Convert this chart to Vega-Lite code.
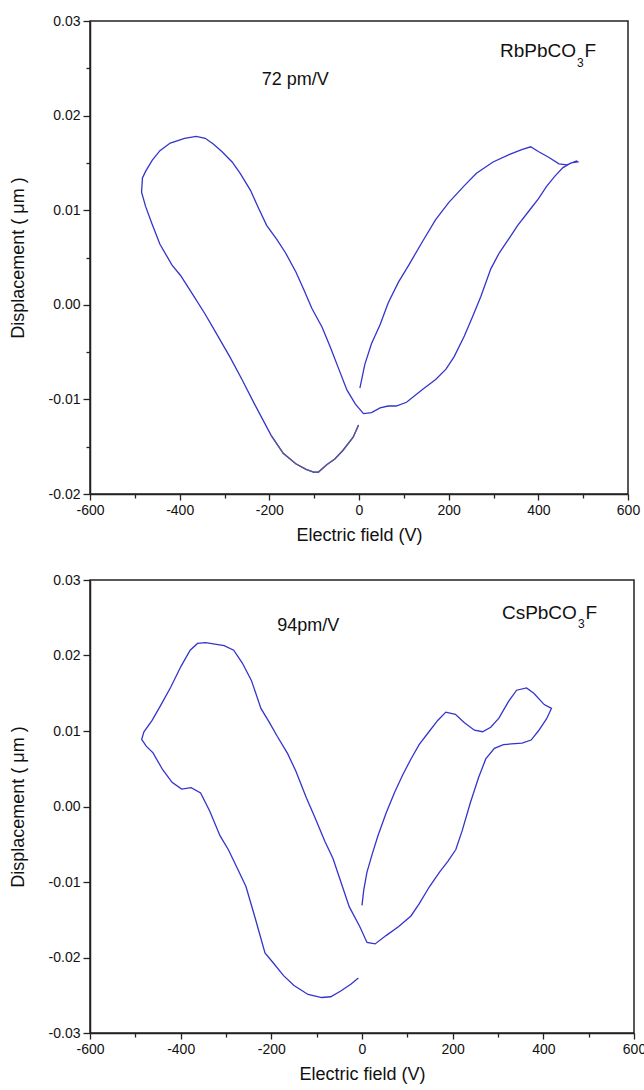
{
  "$schema": "https://vega.github.io/schema/vega-lite/v6.json",
  "padding": {"left": 8, "top": 13, "right": -3, "bottom": 0},
  "spacing": 27,
  "background": "white",
  "config": {
    "view": {"stroke": "#222222", "strokeWidth": 1.5},
    "axis": {
      "grid": false,
      "domainColor": "#222222",
      "domainWidth": 1.5,
      "tickColor": "#222222",
      "tickWidth": 1.3,
      "labelFont": "Liberation Sans",
      "labelFontSize": 14,
      "labelColor": "#111111",
      "labelPadding": 3,
      "labelOverlap": false,
      "labelFlush": false,
      "titleFont": "Liberation Sans",
      "titleFontSize": 18,
      "titleFontWeight": "normal",
      "titleColor": "#111111"
    },
    "text": {"font": "Liberation Sans", "color": "#111111"}
  },
  "datasets": {
    "rb": [
      {"i": 0, "V": 2, "D": -0.0088}, {"i": 1, "V": 13, "D": -0.0063}, {"i": 2, "V": 28, "D": -0.0041},
      {"i": 3, "V": 47, "D": -0.0021}, {"i": 4, "V": 65, "D": 0.0002}, {"i": 5, "V": 88, "D": 0.0024},
      {"i": 6, "V": 111, "D": 0.0042}, {"i": 7, "V": 143, "D": 0.0068}, {"i": 8, "V": 171, "D": 0.009},
      {"i": 9, "V": 200, "D": 0.0108}, {"i": 10, "V": 235, "D": 0.0126}, {"i": 11, "V": 262, "D": 0.0139},
      {"i": 12, "V": 299, "D": 0.0151}, {"i": 13, "V": 336, "D": 0.0159}, {"i": 14, "V": 363, "D": 0.0164},
      {"i": 15, "V": 383, "D": 0.0167}, {"i": 16, "V": 400, "D": 0.0162}, {"i": 17, "V": 423, "D": 0.0156},
      {"i": 18, "V": 446, "D": 0.0149}, {"i": 19, "V": 464, "D": 0.0148}, {"i": 20, "V": 485, "D": 0.0152},
      {"i": 21, "V": 488, "D": 0.0151}, {"i": 22, "V": 473, "D": 0.015}, {"i": 23, "V": 455, "D": 0.0145},
      {"i": 24, "V": 437, "D": 0.0136}, {"i": 25, "V": 418, "D": 0.0125}, {"i": 26, "V": 400, "D": 0.0112},
      {"i": 27, "V": 382, "D": 0.0101}, {"i": 28, "V": 354, "D": 0.0084}, {"i": 29, "V": 336, "D": 0.0071},
      {"i": 30, "V": 313, "D": 0.0055}, {"i": 31, "V": 294, "D": 0.0038}, {"i": 32, "V": 272, "D": 0.0009},
      {"i": 33, "V": 253, "D": -0.0013}, {"i": 34, "V": 235, "D": -0.0033}, {"i": 35, "V": 212, "D": -0.0055},
      {"i": 36, "V": 194, "D": -0.0068}, {"i": 37, "V": 171, "D": -0.0079}, {"i": 38, "V": 143, "D": -0.0089},
      {"i": 39, "V": 106, "D": -0.0103}, {"i": 40, "V": 83, "D": -0.0107}, {"i": 41, "V": 65, "D": -0.0107},
      {"i": 42, "V": 47, "D": -0.0109}, {"i": 43, "V": 28, "D": -0.0114}, {"i": 44, "V": 10, "D": -0.0115},
      {"i": 45, "V": -8, "D": -0.0105}, {"i": 46, "V": -27, "D": -0.009}, {"i": 47, "V": -45, "D": -0.0068},
      {"i": 48, "V": -63, "D": -0.0046}, {"i": 49, "V": -82, "D": -0.0024}, {"i": 50, "V": -105, "D": -0.0004},
      {"i": 51, "V": -123, "D": 0.0016}, {"i": 52, "V": -141, "D": 0.0035}, {"i": 53, "V": -164, "D": 0.0055},
      {"i": 54, "V": -183, "D": 0.0069}, {"i": 55, "V": -206, "D": 0.0084}, {"i": 56, "V": -224, "D": 0.0102},
      {"i": 57, "V": -242, "D": 0.0121}, {"i": 58, "V": -265, "D": 0.0139}, {"i": 59, "V": -283, "D": 0.0151},
      {"i": 60, "V": -306, "D": 0.0162}, {"i": 61, "V": -325, "D": 0.017}, {"i": 62, "V": -343, "D": 0.0176},
      {"i": 63, "V": -363, "D": 0.0178}, {"i": 64, "V": -389, "D": 0.0176}, {"i": 65, "V": -421, "D": 0.0171},
      {"i": 66, "V": -444, "D": 0.0163}, {"i": 67, "V": -461, "D": 0.0153}, {"i": 68, "V": -476, "D": 0.0141},
      {"i": 69, "V": -483, "D": 0.0134}, {"i": 70, "V": -485, "D": 0.0119}, {"i": 71, "V": -476, "D": 0.0104},
      {"i": 72, "V": -462, "D": 0.0086}, {"i": 73, "V": -444, "D": 0.0064}, {"i": 74, "V": -417, "D": 0.0042},
      {"i": 75, "V": -398, "D": 0.0031}, {"i": 76, "V": -371, "D": 0.0011}, {"i": 77, "V": -343, "D": -0.001},
      {"i": 78, "V": -316, "D": -0.0032}, {"i": 79, "V": -288, "D": -0.0055}, {"i": 80, "V": -261, "D": -0.0079},
      {"i": 81, "V": -233, "D": -0.0105}, {"i": 82, "V": -196, "D": -0.0138}, {"i": 83, "V": -169, "D": -0.0157},
      {"i": 84, "V": -141, "D": -0.0168}, {"i": 85, "V": -118, "D": -0.0174}, {"i": 86, "V": -100, "D": -0.0177},
      {"i": 87, "V": -91, "D": -0.0177}, {"i": 88, "V": -72, "D": -0.0169}, {"i": 89, "V": -54, "D": -0.0163},
      {"i": 90, "V": -36, "D": -0.0154}, {"i": 91, "V": -13, "D": -0.014}, {"i": 92, "V": -1, "D": -0.0127}
    ],
    "cs": [
      {"i": 0, "V": 0, "D": -0.0131}, {"i": 1, "V": 4, "D": -0.011}, {"i": 2, "V": 11, "D": -0.0087},
      {"i": 3, "V": 22, "D": -0.0064}, {"i": 4, "V": 35, "D": -0.0039}, {"i": 5, "V": 53, "D": -0.0009},
      {"i": 6, "V": 72, "D": 0.0019}, {"i": 7, "V": 90, "D": 0.0042}, {"i": 8, "V": 108, "D": 0.0063},
      {"i": 9, "V": 126, "D": 0.0082}, {"i": 10, "V": 149, "D": 0.01}, {"i": 11, "V": 167, "D": 0.0114},
      {"i": 12, "V": 185, "D": 0.0125}, {"i": 13, "V": 206, "D": 0.0122}, {"i": 14, "V": 226, "D": 0.0111},
      {"i": 15, "V": 248, "D": 0.0101}, {"i": 16, "V": 266, "D": 0.0099}, {"i": 17, "V": 284, "D": 0.0105},
      {"i": 18, "V": 302, "D": 0.0117}, {"i": 19, "V": 323, "D": 0.0139}, {"i": 20, "V": 341, "D": 0.0154},
      {"i": 21, "V": 363, "D": 0.0157}, {"i": 22, "V": 379, "D": 0.015}, {"i": 23, "V": 402, "D": 0.0135},
      {"i": 24, "V": 418, "D": 0.013}, {"i": 25, "V": 407, "D": 0.0116}, {"i": 26, "V": 389, "D": 0.01},
      {"i": 27, "V": 373, "D": 0.0088}, {"i": 28, "V": 353, "D": 0.0084}, {"i": 29, "V": 312, "D": 0.0082},
      {"i": 30, "V": 292, "D": 0.0077}, {"i": 31, "V": 273, "D": 0.0063}, {"i": 32, "V": 257, "D": 0.0038},
      {"i": 33, "V": 239, "D": 0.0005}, {"i": 34, "V": 221, "D": -0.0032}, {"i": 35, "V": 207, "D": -0.0057},
      {"i": 36, "V": 189, "D": -0.0073}, {"i": 37, "V": 171, "D": -0.0087}, {"i": 38, "V": 149, "D": -0.0106},
      {"i": 39, "V": 126, "D": -0.0129}, {"i": 40, "V": 108, "D": -0.0145}, {"i": 41, "V": 81, "D": -0.0159},
      {"i": 42, "V": 53, "D": -0.0171}, {"i": 43, "V": 29, "D": -0.0182}, {"i": 44, "V": 11, "D": -0.018},
      {"i": 45, "V": -5, "D": -0.0159}, {"i": 46, "V": -28, "D": -0.0133}, {"i": 47, "V": -46, "D": -0.0101},
      {"i": 48, "V": -64, "D": -0.0069}, {"i": 49, "V": -82, "D": -0.0046}, {"i": 50, "V": -105, "D": -0.0013},
      {"i": 51, "V": -123, "D": 0.0012}, {"i": 52, "V": -146, "D": 0.0047}, {"i": 53, "V": -164, "D": 0.007},
      {"i": 54, "V": -187, "D": 0.0093}, {"i": 55, "V": -205, "D": 0.0112}, {"i": 56, "V": -223, "D": 0.013},
      {"i": 57, "V": -244, "D": 0.0167}, {"i": 58, "V": -264, "D": 0.019}, {"i": 59, "V": -283, "D": 0.0207},
      {"i": 60, "V": -304, "D": 0.0213}, {"i": 61, "V": -345, "D": 0.0217}, {"i": 62, "V": -363, "D": 0.0216},
      {"i": 63, "V": -379, "D": 0.0207}, {"i": 64, "V": -399, "D": 0.0186}, {"i": 65, "V": -422, "D": 0.0158},
      {"i": 66, "V": -445, "D": 0.0133}, {"i": 67, "V": -463, "D": 0.0114}, {"i": 68, "V": -481, "D": 0.0099},
      {"i": 69, "V": -486, "D": 0.0089}, {"i": 70, "V": -476, "D": 0.008}, {"i": 71, "V": -461, "D": 0.0071},
      {"i": 72, "V": -440, "D": 0.0049}, {"i": 73, "V": -419, "D": 0.0032}, {"i": 74, "V": -398, "D": 0.0023},
      {"i": 75, "V": -377, "D": 0.0025}, {"i": 76, "V": -356, "D": 0.0018}, {"i": 77, "V": -336, "D": -0.0006},
      {"i": 78, "V": -313, "D": -0.0039}, {"i": 79, "V": -295, "D": -0.0057}, {"i": 80, "V": -274, "D": -0.0083},
      {"i": 81, "V": -256, "D": -0.0106}, {"i": 82, "V": -236, "D": -0.0147}, {"i": 83, "V": -214, "D": -0.0194},
      {"i": 84, "V": -196, "D": -0.0207}, {"i": 85, "V": -173, "D": -0.0224}, {"i": 86, "V": -150, "D": -0.0237},
      {"i": 87, "V": -119, "D": -0.0249}, {"i": 88, "V": -89, "D": -0.0253}, {"i": 89, "V": -69, "D": -0.0252},
      {"i": 90, "V": -46, "D": -0.0244}, {"i": 91, "V": -24, "D": -0.0235}, {"i": 92, "V": -8, "D": -0.0227}
    ]
  },
  "vconcat": [
    {
      "width": 538,
      "height": 473,
      "layer": [
        {
          "data": {"name": "rb"},
          "mark": {"type": "line", "color": "#3434cc", "strokeWidth": 1.3},
          "encoding": {
            "x": {"field": "V", "type": "quantitative",
                  "scale": {"domain": [-600, 600], "nice": false, "zero": false},
                  "axis": {"title": "Electric field (V)", "values": [-600, -500, -400, -300, -200, -100, 0, 100, 200, 300, 400, 500, 600],
                           "labelExpr": "datum.value % 200 == 0 ? replace(format(datum.value, 'd'), '\u2212', '-') : ''",
                           "tickSize": {"condition": {"test": "datum.value % 200 != 0", "value": 4}, "value": 6},
                           "titlePadding": 9}},
            "y": {"field": "D", "type": "quantitative",
                  "scale": {"domain": [-0.02, 0.03], "nice": false, "zero": false},
                  "axis": {"title": "Displacement ( \u03bcm )", "values": [-0.02, -0.015, -0.01, -0.005, 0, 0.005, 0.01, 0.015, 0.02, 0.025, 0.03],
                           "labelExpr": "abs(datum.value*100 - round(datum.value*100)) < 0.01 ? replace(format(datum.value, '.2f'), '\u2212', '-') : ''",
                           "tickSize": {"condition": {"test": "abs(datum.value*100 - round(datum.value*100)) > 0.01", "value": 4}, "value": 7},
                           "titlePadding": 21}},
            "order": {"field": "i", "type": "quantitative"}
          }
        },
        {
          "data": {"name": "rb"},
          "transform": [{"filter": "datum.i >= 82"}],
          "mark": {"type": "line", "color": "#5a5a90", "strokeWidth": 1.3},
          "encoding": {
            "x": {"field": "V", "type": "quantitative"},
            "y": {"field": "D", "type": "quantitative"},
            "order": {"field": "i", "type": "quantitative"}
          }
        },
        {
          "data": {"values": [{"V": -217, "D": 0.0232, "label": "72 pm/V"}]},
          "mark": {"type": "text", "align": "left", "baseline": "alphabetic", "fontSize": 18},
          "encoding": {"x": {"field": "V", "type": "quantitative"}, "y": {"field": "D", "type": "quantitative"}, "text": {"field": "label"}}
        },
        {
          "data": {"values": [{"V": 484, "D": 0.0262, "label": "RbPbCO"}]},
          "mark": {"type": "text", "align": "right", "baseline": "alphabetic", "fontSize": 19},
          "encoding": {"x": {"field": "V", "type": "quantitative"}, "y": {"field": "D", "type": "quantitative"}, "text": {"field": "label"}}
        },
        {
          "data": {"values": [{"V": 484, "D": 0.0262, "label": "3"}]},
          "mark": {"type": "text", "align": "left", "baseline": "alphabetic", "fontSize": 12, "dx": 1, "dy": 10},
          "encoding": {"x": {"field": "V", "type": "quantitative"}, "y": {"field": "D", "type": "quantitative"}, "text": {"field": "label"}}
        },
        {
          "data": {"values": [{"V": 484, "D": 0.0262, "label": "F"}]},
          "mark": {"type": "text", "align": "left", "baseline": "alphabetic", "fontSize": 19, "dx": 8.5},
          "encoding": {"x": {"field": "V", "type": "quantitative"}, "y": {"field": "D", "type": "quantitative"}, "text": {"field": "label"}}
        }
      ]
    },
    {
      "width": 544,
      "height": 453,
      "layer": [
        {
          "data": {"name": "cs"},
          "mark": {"type": "line", "color": "#3434cc", "strokeWidth": 1.3},
          "encoding": {
            "x": {"field": "V", "type": "quantitative",
                  "scale": {"domain": [-600, 600], "nice": false, "zero": false},
                  "axis": {"title": "Electric field (V)", "values": [-600, -500, -400, -300, -200, -100, 0, 100, 200, 300, 400, 500, 600],
                           "labelExpr": "datum.value % 200 == 0 ? replace(format(datum.value, 'd'), '\u2212', '-') : ''",
                           "tickSize": {"condition": {"test": "datum.value % 200 != 0", "value": 4}, "value": 6},
                           "titlePadding": 9}},
            "y": {"field": "D", "type": "quantitative",
                  "scale": {"domain": [-0.03, 0.03], "nice": false, "zero": false},
                  "axis": {"title": "Displacement ( \u03bcm )", "values": [-0.03, -0.025, -0.02, -0.015, -0.01, -0.005, 0, 0.005, 0.01, 0.015, 0.02, 0.025, 0.03],
                           "labelExpr": "abs(datum.value*100 - round(datum.value*100)) < 0.01 ? replace(format(datum.value, '.2f'), '\u2212', '-') : ''",
                           "tickSize": {"condition": {"test": "abs(datum.value*100 - round(datum.value*100)) > 0.01", "value": 4}, "value": 7},
                           "titlePadding": 21}},
            "order": {"field": "i", "type": "quantitative"}
          }
        },
        {
          "data": {"values": [{"V": -187, "D": 0.0233, "label": "94pm/V"}]},
          "mark": {"type": "text", "align": "left", "baseline": "alphabetic", "fontSize": 18},
          "encoding": {"x": {"field": "V", "type": "quantitative"}, "y": {"field": "D", "type": "quantitative"}, "text": {"field": "label"}}
        },
        {
          "data": {"values": [{"V": 474, "D": 0.0249, "label": "CsPbCO"}]},
          "mark": {"type": "text", "align": "right", "baseline": "alphabetic", "fontSize": 19},
          "encoding": {"x": {"field": "V", "type": "quantitative"}, "y": {"field": "D", "type": "quantitative"}, "text": {"field": "label"}}
        },
        {
          "data": {"values": [{"V": 474, "D": 0.0249, "label": "3"}]},
          "mark": {"type": "text", "align": "left", "baseline": "alphabetic", "fontSize": 12, "dx": 1, "dy": 9},
          "encoding": {"x": {"field": "V", "type": "quantitative"}, "y": {"field": "D", "type": "quantitative"}, "text": {"field": "label"}}
        },
        {
          "data": {"values": [{"V": 474, "D": 0.0249, "label": "F"}]},
          "mark": {"type": "text", "align": "left", "baseline": "alphabetic", "fontSize": 19, "dx": 8.5},
          "encoding": {"x": {"field": "V", "type": "quantitative"}, "y": {"field": "D", "type": "quantitative"}, "text": {"field": "label"}}
        }
      ]
    }
  ]
}
